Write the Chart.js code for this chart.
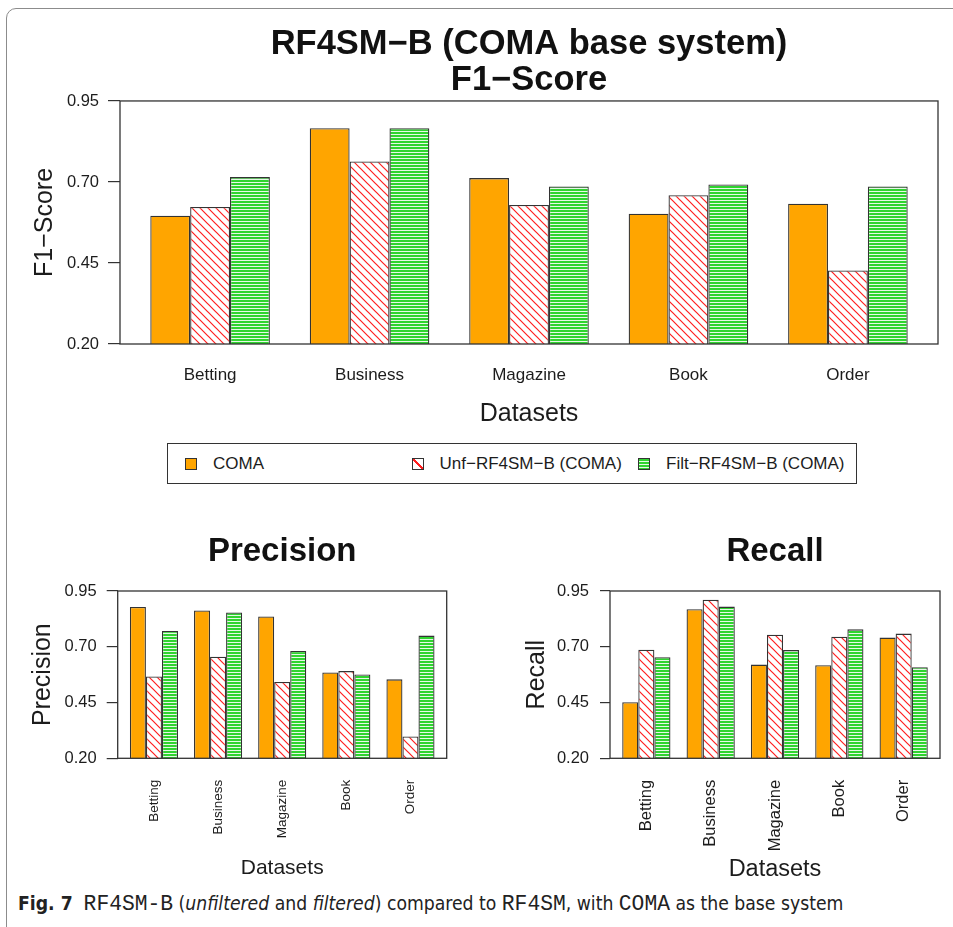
<!DOCTYPE html>
<html>
<head>
<meta charset="utf-8">
<script src="https://cdn.jsdelivr.net/npm/chart.js@4/dist/chart.umd.min.js"></script>
<style>
  html, body { margin: 0; padding: 0; background: #fff; width: 953px; height: 927px; overflow: hidden; }
  body { position: relative; font-family: "Liberation Sans", Arial, sans-serif; color: #1c1c1c; }
  .frame { position: absolute; left: 6px; top: 8px; width: 1000px; height: 1000px;
           border: 1px solid #8c8c8c; border-radius: 10px; box-sizing: border-box; }
  canvas { position: absolute; display: block; }
  #f1 { left: 0; top: 0; }
  #prec { left: 0; top: 520px; }
  #rec { left: 476px; top: 520px; }
  .legend { position: absolute; left: 167px; top: 443px; width: 690px; height: 41px;
            border: 1.3px solid #333; box-sizing: border-box; }
  .legend .item { position: absolute; top: 0; height: 100%; display: flex; align-items: center;
                  font-size: 17px; white-space: nowrap; color: #1c1c1c; }
  .legend .sw { width: 12px; height: 12px; border: 1.3px solid #333; box-sizing: border-box; margin-right: 16px; }
  .caption { position: absolute; left: 18px; top: 892px; font-family: "Liberation Sans Narrow", "DejaVu Sans Condensed", "Liberation Sans", sans-serif;
             font-size: 19.2px; color: #222; white-space: nowrap; }
  .caption .mono { font-family: "Liberation Mono", "DejaVu Sans Mono", monospace; font-size: 21.3px; }
</style>
</head>
<body>
<div class="frame"></div>
<canvas id="f1" width="953" height="432"></canvas>
<div class="legend" id="legend"></div>
<canvas id="prec" width="476" height="370"></canvas>
<canvas id="rec" width="477" height="370"></canvas>
<div class="caption"><b>Fig. 7</b>&nbsp; <span class="mono">RF4SM-B</span> (<i>unfiltered</i> and <i>filtered</i>) compared to <span class="mono">RF4SM</span>, with <span class="mono">COMA</span> as the base system</div>

<script>
// ---- data ----
const categories = ['Betting', 'Business', 'Magazine', 'Book', 'Order'];
const seriesNames = ['COMA', 'Unf\u2212RF4SM\u2212B (COMA)', 'Filt\u2212RF4SM\u2212B (COMA)'];
const yTicks = [0.20, 0.45, 0.70, 0.95];

const f1Coma = [0.596, 0.866, 0.712, 0.602, 0.633];
const f1Unf  = [0.623, 0.763, 0.629, 0.659, 0.427];
const f1Filt = [0.715, 0.866, 0.686, 0.692, 0.686];

const precComa = [0.878, 0.863, 0.836, 0.585, 0.554];
const precUnf  = [0.567, 0.655, 0.542, 0.591, 0.298];
const precFilt = [0.771, 0.854, 0.681, 0.576, 0.750];

const recComa = [0.451, 0.868, 0.620, 0.617, 0.741];
const recUnf  = [0.687, 0.911, 0.754, 0.745, 0.759];
const recFilt = [0.653, 0.880, 0.685, 0.778, 0.608];

// ---- layout helpers: grouped bars, 3 bars + 1 gap per group, 4% padding each side ----
const groupCenter = i => 2.5 + 4 * i;
const X_MIN = 1 - 0.04 * 19;
const X_MAX = 20 + 0.04 * 19;

const FONT = '"Liberation Sans", Arial, sans-serif';
const TEXT = '#1c1c1c';
const EDGE = '#333333';
Chart.defaults.font.family = FONT;
Chart.defaults.color = TEXT;

function makeFills(ctx) {
  const hatch = document.createElement('canvas');
  hatch.width = hatch.height = 8;
  const h = hatch.getContext('2d');
  h.fillStyle = '#ffffff';
  h.fillRect(0, 0, 8, 8);
  h.strokeStyle = '#ff1f1f';
  h.lineWidth = 1.2;
  h.beginPath();
  h.moveTo(-1, -1); h.lineTo(9, 9);
  h.moveTo(-1, 7); h.lineTo(1, 9);
  h.moveTo(7, -1); h.lineTo(9, 1);
  h.stroke();

  const lines = document.createElement('canvas');
  lines.width = 4; lines.height = 3;
  const l = lines.getContext('2d');
  l.fillStyle = '#e6f8e6';
  l.fillRect(0, 0, 4, 3);
  l.fillStyle = '#2fd42f';
  l.fillRect(0, 0, 4, 2);

  return ['#ffa500', ctx.createPattern(hatch, 'repeat'), ctx.createPattern(lines, 'repeat')];
}

// frame around the plotting region; titles centred over it
const framePlugin = {
  id: 'plotFrame',
  afterLayout(chart) {
    if (chart.titleBlock) {
      chart.titleBlock.left = chart.chartArea.left;
      chart.titleBlock.right = chart.chartArea.right;
    }
  },
  afterDatasetsDraw(chart) {
    const { ctx, chartArea: a } = chart;
    ctx.save();
    ctx.strokeStyle = EDGE;
    ctx.lineWidth = 1.3;
    ctx.strokeRect(a.left, a.top, a.right - a.left, a.bottom - a.top);
    ctx.restore();
  }
};

function buildChart(canvasId, cfg) {
  const canvas = document.getElementById(canvasId);
  const ctx = canvas.getContext('2d');
  const fills = makeFills(ctx);
  const series = [cfg.coma, cfg.unf, cfg.filt];
  const datasets = series.map((vals, s) => ({
    label: seriesNames[s],
    data: vals.map((v, i) => ({ x: groupCenter(i), y: v })),
    backgroundColor: fills[s],
    borderColor: EDGE,
    borderWidth: 1.3,
    borderSkipped: false,
    categoryPercentage: 0.75,
    barPercentage: 1.0
  }));

  return new Chart(ctx, {
    type: 'bar',
    data: { datasets },
    plugins: [framePlugin],
    options: {
      responsive: false,
      animation: false,
      events: [],
      layout: { padding: cfg.padding },
      plugins: {
        legend: { display: false },
        tooltip: { enabled: false },
        title: {
          display: true,
          text: cfg.title,
          color: '#111',
          font: { size: cfg.titleSize, weight: 'bold', lineHeight: cfg.titleLH },
          padding: cfg.titlePad
        }
      },
      scales: {
        x: {
          type: 'linear',
          min: X_MIN,
          max: X_MAX,
          offset: false,
          grid: { display: false, drawTicks: false },
          border: { display: false },
          afterBuildTicks: s => { s.ticks = categories.map((_, i) => ({ value: groupCenter(i) })); },
          ticks: {
            autoSkip: false,
            callback: (v, i) => categories[i],
            font: { size: cfg.xTickSize },
            color: TEXT,
            padding: cfg.xTickPad,
            minRotation: cfg.rot,
            maxRotation: cfg.rot
          },
          title: { display: true, text: 'Datasets', color: TEXT, font: { size: cfg.xTitleSize }, padding: 0 },
          afterFit: s => { s.height = cfg.xHeight; }
        },
        y: {
          min: 0.2,
          max: 0.95,
          afterBuildTicks: s => { s.ticks = yTicks.map(v => ({ value: v })); },
          grid: { drawOnChartArea: false, drawTicks: true, tickLength: cfg.tickLen, color: EDGE, lineWidth: 1.2 },
          border: { display: false },
          ticks: { callback: v => v.toFixed(2), font: { size: 16.5 }, color: TEXT, padding: cfg.yTickPad },
          title: { display: true, text: cfg.yTitle, color: TEXT, font: { size: 25 }, padding: { top: cfg.yTitlePad, bottom: 0 } },
          afterFit: s => { s.width = cfg.yWidth; }
        }
      }
    }
  });
}

const f1Chart = buildChart('f1', {
  coma: f1Coma, unf: f1Unf, filt: f1Filt,
  title: ['RF4SM\u2212B (COMA base system)', 'F1\u2212Score'],
  titleSize: 34.5, titleLH: 1.04, titlePad: { top: 27, bottom: 2.2 },
  padding: { left: 0, right: 15, top: 0, bottom: 3 },
  yWidth: 120, tickLen: 12, yTickPad: 9, yTitle: 'F1\u2212Score', yTitlePad: 30,
  xTickSize: 17, xTickPad: 21, rot: 0, xTitleSize: 25, xHeight: 85
});

buildChart('prec', {
  coma: precComa, unf: precUnf, filt: precFilt,
  title: 'Precision',
  titleSize: 33, titleLH: 1.2, titlePad: { top: 12.5, bottom: 18.9 },
  padding: { left: 0, right: 29.3, top: 0, bottom: 9.4 },
  yWidth: 117.7, tickLen: 11, yTickPad: 10, yTitle: 'Precision', yTitlePad: 28,
  xTickSize: 13.5, xTickPad: 21.5, rot: 90, xTitleSize: 21, xHeight: 122.3
});

buildChart('rec', {
  coma: recComa, unf: recUnf, filt: recFilt,
  title: 'Recall',
  titleSize: 33, titleLH: 1.2, titlePad: { top: 12.5, bottom: 18.9 },
  padding: { left: 0, right: 13, top: 0, bottom: 5.9 },
  yWidth: 134, tickLen: 10, yTickPad: 11, yTitle: 'Recall', yTitlePad: 46,
  xTickSize: 16.5, xTickPad: 21.5, rot: 90, xTitleSize: 23.5, xHeight: 125.8
});

// legend shared by all three panels, built from the F1 chart's datasets
(function buildLegend() {
  const box = document.getElementById('legend');
  const swatchCss = [
    'background:#ffa500;',
    'background:#fff linear-gradient(to top right, transparent calc(50% - 0.8px), #ff1f1f calc(50% - 0.8px), #ff1f1f calc(50% + 0.8px), transparent calc(50% + 0.8px));',
    'background:repeating-linear-gradient(to bottom, #2fd42f 0px, #2fd42f 2px, #e6f8e6 2px, #e6f8e6 3px);'
  ];
  f1Chart.data.datasets.forEach((ds, i) => {
    const item = document.createElement('div');
    item.className = 'item';
    item.style.left = (17 + i * 226.5) + 'px';
    const sw = document.createElement('div');
    sw.className = 'sw';
    sw.style.cssText = swatchCss[i];
    const label = document.createElement('span');
    label.textContent = ds.label;
    item.appendChild(sw);
    item.appendChild(label);
    box.appendChild(item);
  });
})();
</script>
</body>
</html>
